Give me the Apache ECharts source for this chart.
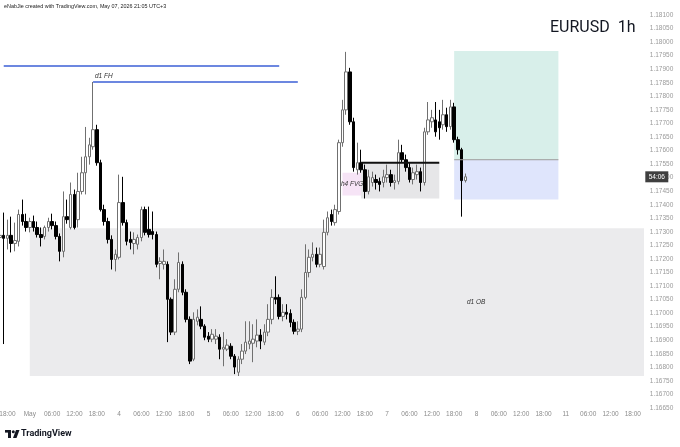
<!DOCTYPE html>
<html><head><meta charset="utf-8">
<script src="https://cdn.jsdelivr.net/npm/echarts@6/dist/echarts.min.js"></script>
<style>html,body{margin:0;padding:0;background:#fff}#c{width:680px;height:447px}</style>
</head><body><div id="c"></div>
<script>
// trading sessions: [date, firstHour, lastHour]
const sessions = [['2026-04-30',16,23],['2026-05-01',0,23],['2026-05-04',0,23],['2026-05-05',0,23],['2026-05-06',0,23],['2026-05-07',0,23],['2026-05-08',0,23],['2026-05-11',0,20]];

const opens = [1.17279,1.17287,1.17276,1.17287,1.17257,1.17265,1.17364,1.17338,1.17316,1.17338,1.17316,1.17290,1.17283,1.17316,1.17338,1.17323,1.17283,1.17228,1.17356,1.17316,1.17438,1.17345,1.17449,1.17518,1.17577,1.17614,1.17677,1.17555,1.17382,1.17338,1.17272,1.17198,
1.17206,1.17408,1.17334,1.17272,1.17257,1.17254,1.17279,1.17382,1.17309,1.17301,1.17290,1.17183,1.17180,1.17180,1.17051,1.16930,1.17088,1.17180,1.17077,1.16977,1.16830,1.16970,1.16977,1.16952,
1.16915,1.16904,1.16904,1.16911,1.16867,1.16867,1.16878,1.16841,1.16782,1.16830,1.16860,1.16886,1.16889,1.16897,1.16919,1.16893,1.16930,1.16977,1.17058,1.17058,1.16988,1.17003,1.16999,1.16966,
1.16933,1.16941,1.17058,1.17150,1.17206,1.17217,1.17180,1.17172,1.17298,1.17364,1.17334,1.17375,1.17629,1.17750,1.17890,1.17706,1.17529,1.17555,1.17529,1.17449,1.17482,1.17493,1.17486,1.17482,
1.17500,1.17511,1.17482,1.17486,1.17592,1.17566,1.17537,1.17493,1.17511,1.17522,1.17482,1.17669,1.17706,1.17713,1.17706,1.17695,1.17732,1.17688,1.17761,1.17640,1.17603,1.17489];
const closes = [1.17287,1.17276,1.17287,1.17257,1.17268,1.17364,1.17338,1.17316,1.17338,1.17316,1.17290,1.17279,1.17316,1.17338,1.17323,1.17283,1.17228,1.17356,1.17345,1.17438,1.17316,1.17449,1.17518,1.17577,1.17621,1.17677,1.17555,1.17382,1.17338,1.17272,1.17198,1.17217,
1.17408,1.17334,1.17265,1.17261,1.17272,1.17279,1.17382,1.17298,1.17290,1.17290,1.17180,1.17191,1.17191,1.17051,1.16930,1.17088,1.17187,1.17077,1.16977,1.16823,1.16977,1.16985,1.16952,1.16911,
1.16904,1.16922,1.16915,1.16867,1.16874,1.16882,1.16841,1.16801,1.16830,1.16860,1.16893,1.16897,1.16904,1.16919,1.16897,1.16930,1.16977,1.17058,1.17051,1.16988,1.17003,1.16996,1.16966,1.16933,
1.16941,1.17058,1.17150,1.17206,1.17217,1.17180,1.17217,1.17298,1.17352,1.17338,1.17382,1.17629,1.17750,1.17890,1.17706,1.17537,1.17555,1.17529,1.17449,1.17503,1.17500,1.17482,1.17475,1.17503,
1.17511,1.17482,1.17489,1.17592,1.17566,1.17537,1.17493,1.17518,1.17522,1.17482,1.17669,1.17713,1.17721,1.17669,1.17684,1.17732,1.17688,1.17761,1.17640,1.17603,1.17489,1.17503];
const lows = [1.17254,1.16886,1.17235,1.17224,1.17228,1.17246,1.17323,1.17301,1.17298,1.17301,1.17279,1.17246,1.17272,1.17301,1.17309,1.17272,1.17191,1.17206,1.17330,1.17309,1.17309,1.17316,1.17438,1.17438,1.17548,1.17603,1.17544,1.17375,1.17323,1.17257,1.17161,1.17154,
1.17198,1.17323,1.17250,1.17235,1.17217,1.17235,1.17265,1.17287,1.17279,1.17272,1.17169,1.17125,1.17161,1.16893,1.16919,1.16919,1.17077,1.17066,1.16966,1.16812,1.16823,1.16955,1.16941,1.16900,
1.16893,1.16893,1.16886,1.16830,1.16804,1.16860,1.16830,1.16775,1.16768,1.16812,1.16849,1.16867,1.16819,1.16874,1.16867,1.16882,1.16915,1.16959,1.17033,1.16977,1.16970,1.16977,1.16948,1.16922,
1.16919,1.16930,1.17051,1.17132,1.17191,1.17169,1.17169,1.17161,1.17287,1.17323,1.17323,1.17364,1.17614,1.17732,1.17695,1.17522,1.17511,1.17518,1.17423,1.17438,1.17467,1.17456,1.17449,1.17464,
1.17482,1.17467,1.17456,1.17475,1.17555,1.17522,1.17482,1.17475,1.17493,1.17449,1.17471,1.17658,1.17684,1.17651,1.17640,1.17677,1.17669,1.17677,1.17629,1.17585,1.17356,1.17482];
const highs = [1.17309,1.17371,1.17345,1.17356,1.17334,1.17382,1.17419,1.17367,1.17352,1.17360,1.17338,1.17316,1.17323,1.17352,1.17367,1.17338,1.17294,1.17449,1.17419,1.17482,1.17456,1.17518,1.17577,1.17687,1.17647,1.17853,1.17695,1.17566,1.17400,1.17352,1.17287,1.17235,
1.17511,1.17503,1.17345,1.17301,1.17298,1.17290,1.17393,1.17393,1.17393,1.17375,1.17301,1.17206,1.17235,1.17191,1.17058,1.17125,1.17224,1.17191,1.17088,1.16988,1.17003,1.17014,1.17025,1.16959,
1.16930,1.16941,1.16941,1.16922,1.16930,1.16904,1.16889,1.16849,1.16841,1.16886,1.16970,1.16970,1.16959,1.16977,1.16941,1.16959,1.17033,1.17088,1.17136,1.17069,1.17033,1.17033,1.17014,1.16977,
1.16970,1.17088,1.17254,1.17235,1.17261,1.17242,1.17242,1.17345,1.17375,1.17382,1.17400,1.17640,1.17787,1.17964,1.17905,1.17721,1.17629,1.17603,1.17548,1.17529,1.17522,1.17511,1.17500,1.17529,
1.17548,1.17529,1.17511,1.17640,1.17621,1.17585,1.17555,1.17537,1.17548,1.17537,1.17684,1.17779,1.17750,1.17779,1.17750,1.17787,1.17758,1.17787,1.17776,1.17651,1.17610,1.17515];

// zones: [fromBar, toBar, topPrice, bottomPrice]
const obZone   = [8.06, 172.7, 1.17313, 1.16768];
const fvgZone  = [91.5, 97, 1.17518, 1.17434];
const rangeZone= [97, 117.9, 1.17555, 1.17423];
const tpZone   = [121.8, 149.8, 1.17967, 1.17566];
const slZone   = [121.8, 149.8, 1.17566, 1.17419];
// levels: [fromBar, toBar, price]
const highLevel1 = [1.07, 74.95, 1.17912];
const fhLevel    = [25, 80.05, 1.17853];
const rangeLevel = [97.2, 117.9, 1.17555];
const entryLevel = [121.8, 149.8, 1.17566];
const yMin = 1.1665, yMax = 1.1815, yStep = 0.0005;
const countdown = '54:06';

const categories = [];
sessions.forEach(([d,h0,h1]) => { for (let h=h0; h<=h1; h++) categories.push(d + ' ' + String(h).padStart(2,'0') + ':00'); });
const candles = opens.map((o,i) => [o, closes[i], lows[i], highs[i]]);
const lastClose = closes[closes.length-1];

const zones = [obZone, fvgZone, rangeZone, tpZone, slZone];
const zoneFills = ['#ebebed', '#f6e4f6', '#e6e6e8', '#d8efea', '#dfe5fc'];
const levels = [highLevel1, fhLevel, rangeLevel, entryLevel];
const levelStyles = [{stroke:'#3b5fd6',lineWidth:1.5},{stroke:'#3b5fd6',lineWidth:1.5},{stroke:'#111',lineWidth:2},{stroke:'#9a9a9a',lineWidth:1}];

function xLabel(cat){
  const d = cat.slice(0,10), t = cat.slice(11);
  if (t === '00:00') { const day = +d.slice(8); return day === 1 ? 'May' : String(day); }
  return t;
}
const font = '"Liberation Sans", Arial, sans-serif';
const chart = echarts.init(document.getElementById('c'));
chart.setOption({
  animation: false,
  backgroundColor: '#ffffff',
  grid: {left: 0, right: 39.7, top: 1.45, bottom: 39, containLabel: false, outerBoundsMode: 'none'},
  xAxis: {
    type: 'category', data: categories, boundaryGap: false,
    axisLine: {show:false}, axisTick: {show:false}, splitLine: {show:false},
    axisLabel: {
      interval: (i, v) => (+v.slice(11,13)) % 6 === 0,
      formatter: xLabel, color: '#8c8c8c', fontSize: 6.5, margin: 3, fontFamily: font, hideOverlap: false
    }
  },
  yAxis: {
    type: 'value', position: 'right', min: yMin, max: yMax, interval: yStep, scale: true,
    axisLine: {show:false}, axisTick: {show:false}, splitLine: {show:false},
    axisLabel: {formatter: v => v.toFixed(5), color: '#9a9a9a', fontSize: 6.5, margin: 9.5, fontFamily: font, showMaxLabel: false, showMinLabel: true}
  },
  series: [
    {
      type: 'custom', z: 1, silent: true, clip: false,
      data: zones.map((z,i) => [z[0], z[1], z[2], z[3], i]),
      encode: {x: [0,1], y: [2,3]},
      renderItem: (params, api) => {
        const p0 = api.coord([api.value(0), api.value(2)]);
        const p1 = api.coord([api.value(1), api.value(3)]);
        return {type:'rect', shape:{x:p0[0], y:p0[1], width:p1[0]-p0[0], height:p1[1]-p0[1]}, style:{fill: zoneFills[api.value(4)]}};
      }
    },
    {
      type: 'custom', z: 3, silent: true, clip: false,
      data: levels.map((l,i) => [l[0], l[1], l[2], i]),
      encode: {x: [0,1], y: 2},
      renderItem: (params, api) => {
        const p0 = api.coord([api.value(0), api.value(2)]);
        const p1 = api.coord([api.value(1), api.value(2)]);
        return {type:'line', shape:{x1:p0[0], y1:p0[1], x2:p1[0], y2:p1[1]}, style: levelStyles[api.value(3)]};
      }
    },
    {
      type: 'candlestick', z: 2, data: candles, barWidth: 3,
      itemStyle: {color:'#ffffff', color0:'#000000', borderColor:'#707070', borderColor0:'#000000', borderWidth: 1}
    },
    {
      // countdown tag on the price scale at the last close
      type: 'custom', z: 5, silent: true, clip: false,
      data: [[closes.length-1, lastClose]],
      encode: {x: 0, y: 1},
      renderItem: (params, api) => {
        const p = api.coord([api.value(0), api.value(1)]);
        const cs = params.coordSys;
        const x = cs.x + cs.width + 5;
        return {type:'group', children:[
          {type:'rect', shape:{x: x, y: p[1]-5.5, width: 23, height: 11}, style:{fill:'#3f3f3f'}},
          {type:'text', x: x + 11.5, y: p[1], style:{text: countdown, fill:'#fff', fontSize: 6.5, fontFamily: font, align:'center', verticalAlign:'middle'}}
        ]};
      }
    }
  ],
  graphic: [
    {type:'text', z: 100, left: 4, top: 4, style:{text:'eNabJie created with TradingView.com, May 07, 2026 21:05 UTC+3', fontSize: 5.4, fill:'#222', fontFamily: font}},
    {type:'text', z: 100, left: 550, top: 20, style:{text:'EURUSD  1h', fontSize: 16, fill:'#131722', fontFamily: 'Roboto, "Liberation Sans", sans-serif'}},
    {type:'text', z: 100, left: 95, top: 73, style:{text:'d1 FH', fontSize: 6.5, fontStyle:'italic', fill:'#333', fontFamily: font}},
    {type:'text', z: 100, left: 341, top: 181, style:{text:'h4 FVG', fontSize: 6.5, fontStyle:'italic', fill:'#333', fontFamily: font}},
    {type:'text', z: 100, left: 467, top: 299, style:{text:'d1 OB', fontSize: 6.5, fontStyle:'italic', fill:'#333', fontFamily: font}},
    {type:'rect', z: 100, shape:{x:5, y:430, width:6, height:2.6}, style:{fill:'#131722'}},
    {type:'rect', z: 100, shape:{x:8, y:430, width:3, height:8}, style:{fill:'#131722'}},
    {type:'circle', z: 100, shape:{cx:13.3, cy:431.8, r:1.5}, style:{fill:'#131722'}},
    {type:'polygon', z: 100, shape:{points:[[16,430],[19.5,430],[16.5,438],[13,438]]}, style:{fill:'#131722'}},
    {type:'text', z: 100, left: 21, top: 429, style:{text:'TradingView', fontSize: 9, fontWeight:'bold', fill:'#131722', fontFamily: 'Roboto, "Liberation Sans", sans-serif'}}
  ]
});
</script></body></html>
